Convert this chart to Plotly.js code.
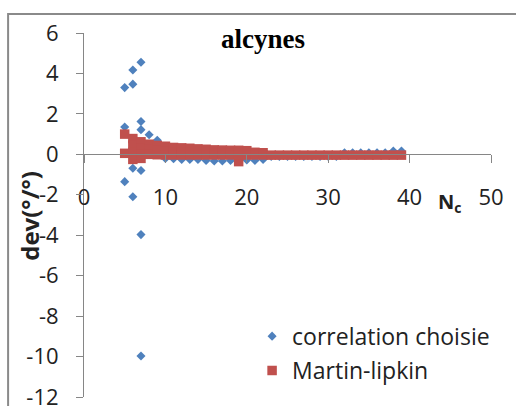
<!DOCTYPE html>
<html>
<head>
<meta charset="utf-8">
<script src="https://cdn.plot.ly/plotly-3.0.1.min.js"></script>
<style>
  html, body { margin: 0; padding: 0; background: #fff; }
  #chart { width: 516px; height: 406px; }
</style>
</head>
<body>
<div id="chart"></div>
<script>
// ---- data ----
const seriesNames = ["correlation choisie", "Martin-lipkin"];

const blueX = [5, 5, 5,
  6, 6, 6, 6,
  7, 7, 7, 7, 7, 7,
  8, 9,
  10, 11, 12, 13, 14, 15, 16, 17, 18, 19, 20, 21, 22,
  23, 24, 25, 26, 27, 28, 29, 30, 31,
  32, 33, 34, 35, 36, 37, 38, 38, 39, 39];
const blueY = [3.3, 1.35, -1.35,
  4.17, 3.47, -0.69, -2.1,
  4.55, 1.62, 1.22, -0.8, -3.97, -9.97,
  0.97, 0.7,
  -0.2, -0.22, -0.25, -0.25, -0.25, -0.3, -0.33, -0.33, -0.3, -0.3, -0.28, -0.3, -0.25,
  -0.1, -0.1, -0.1, -0.1, -0.1, -0.1, -0.1, -0.1, -0.1,
  0.08, 0.08, 0.08, 0.08, 0.08, 0.08, 0.08, 0.16, 0.08, 0.16];

const redX = [5, 5,
  6, 6, 6, 6,
  7, 7, 7, 7,
  8, 8, 8, 9, 9, 9, 10, 10, 10, 11, 11, 11, 12, 12, 12,
  13, 13, 13, 14, 14, 14, 15, 15, 15, 16, 16, 16, 17, 17, 17,
  18, 18, 18, 19, 19, 19, 20, 20, 21, 21, 22, 22,
  23, 24, 25, 26, 27, 28, 29, 30, 31, 32, 33, 34, 35, 36, 37, 38, 39];
const redY = [1.0, 0.05,
  0.78, 0.45, 0.1, -0.25,
  0.62, 0.3, 0.0, -0.2,
  0.5, 0.25, 0.0, 0.44, 0.2, -0.02, 0.4, 0.15, -0.03, 0.34, 0.12, -0.03, 0.32, 0.1, -0.03,
  0.3, 0.1, -0.03, 0.27, 0.08, -0.03, 0.25, 0.08, -0.03, 0.22, 0.05, -0.03, 0.21, 0.05, -0.03,
  0.2, 0.05, -0.03, 0.2, -0.36, -0.03, 0.18, -0.03, 0.1, -0.03, 0.08, -0.03,
  -0.04, -0.04, -0.04, -0.04, -0.04, -0.04, -0.04, -0.04, -0.04, -0.04, -0.04, -0.04, -0.04, -0.04, -0.04, -0.04, -0.04];

const xTicks = [0, 10, 20, 30, 40, 50];
const yTicks = [6, 4, 2, 0, -2, -4, -6, -8, -10, -12];

// ---- chart ----
const FONT = "Open Sans";
const traces = [
  {
    type: "scatter", mode: "markers", name: seriesNames[0],
    x: blueX, y: blueY, legend: "legend",
    marker: { symbol: "diamond", size: 7, color: "#4F81BD" },
    cliponaxis: false
  },
  {
    type: "scatter", mode: "markers", name: seriesNames[1],
    x: redX, y: redY, legend: "legend2",
    marker: { symbol: "square", size: 9.5, color: "#C0504D" },
    cliponaxis: false
  }
];

const layout = {
  width: 516, height: 406,
  margin: { l: 84, r: 24.5, t: 33, b: 8.5 },
  paper_bgcolor: "#fff", plot_bgcolor: "rgba(0,0,0,0)",
  showlegend: true,
  title: {
    text: "<b>alcynes</b>",
    font: { family: "Liberation Serif", size: 27, color: "#000" },
    x: 263 / 516, xref: "container", xanchor: "center",
    y: 1 - 39 / 406, yref: "container", yanchor: "middle"
  },
  xaxis: {
    range: [0, 50], tickvals: xTicks, ticktext: xTicks.map(String),
    anchor: "free", position: 12 / 18,
    showline: true, linecolor: "#868686", linewidth: 1,
    ticks: "outside", ticklen: 8, tickcolor: "#868686",
    ticklabelstandoff: 15,
    showgrid: false, zeroline: false,
    tickfont: { family: FONT, size: 22, color: "#222" }
  },
  yaxis: {
    range: [-12, 6], tickvals: yTicks, ticktext: yTicks.map(String),
    showline: true, linecolor: "#868686", linewidth: 1,
    ticks: "outside", ticklen: 7, tickcolor: "#868686",
    ticklabelstandoff: 13, ticklabeloverflow: "allow",
    showgrid: false, zeroline: false,
    tickfont: { family: FONT, size: 22, color: "#222" }
  },
  legend: {
    x: 0.413, xanchor: "left", y: 0.167, yanchor: "middle",
    bgcolor: "rgba(0,0,0,0)", font: { family: FONT, size: 23, color: "#222" }
  },
  legend2: {
    x: 0.413, xanchor: "left", y: 0.0727, yanchor: "middle",
    bgcolor: "rgba(0,0,0,0)", font: { family: FONT, size: 23, color: "#222" }
  },
  annotations: [
    {
      text: "<b>dev(°/°)</b>", textangle: -90,
      xref: "paper", yref: "paper", x: -0.1325, y: 0.498,
      xanchor: "center", yanchor: "middle", showarrow: false,
      font: { family: FONT, size: 24, color: "#222" }
    },
    {
      text: "<b>N<sub>c</sub></b>",
      xref: "paper", yref: "paper", x: 0.898, y: 0.535,
      xanchor: "center", yanchor: "middle", showarrow: false,
      font: { family: FONT, size: 20, color: "#222" }
    }
  ],
  shapes: [
    {
      type: "rect", xref: "paper", yref: "paper",
      x0: -0.1865, x1: 1.2, y0: -0.2, y1: 1.052,
      line: { color: "#8a8a8a", width: 2 }, fillcolor: "rgba(0,0,0,0)"
    }
  ]
};

Plotly.newPlot("chart", traces, layout, { displayModeBar: false, staticPlot: true });
</script>
</body>
</html>
